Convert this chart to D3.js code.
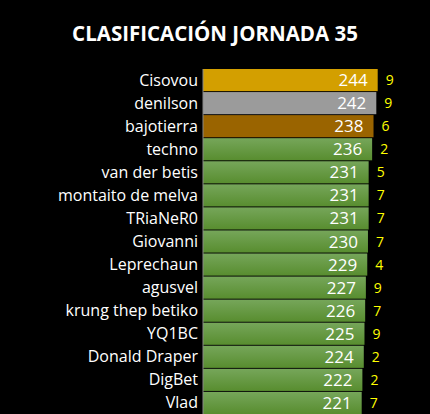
<!DOCTYPE html><html><head><meta charset="utf-8"><script src="https://cdn.jsdelivr.net/npm/d3@7"></script>
<style>body{margin:0;background:#000}</style></head><body><svg id="c" width="430" height="414"></svg>
<script>
const names=["Cisovou","denilson","bajotierra","techno","van der betis","montaito de melva","TRiaNeR0","Giovanni","Leprechaun","agusvel","krung thep betiko","YQ1BC","Donald Draper","DigBet","Vlad"];
const points=[244,242,238,236,231,231,231,230,229,227,226,225,224,222,221];
const extra=[9,9,6,2,5,7,7,7,4,9,7,9,2,2,7];
const svg=d3.select("#c");
svg.append("rect").attr("width",430).attr("height",414).attr("fill","#000");
const defs=svg.append("defs");
const g=defs.append("linearGradient").attr("id","gr").attr("x1",0).attr("y1",0).attr("x2",0).attr("y2",1);
g.append("stop").attr("offset","0").attr("stop-color","#76a65a");
g.append("stop").attr("offset","1").attr("stop-color","#588d2f");
const x=d3.scaleLinear().domain([-7,244]).range([203,377.7]);
const y=d3.scaleBand().domain(names).range([69,414]).paddingInner(0.04);
const fills=["#d39f00","#9b9b9b","#9a6400"];
svg.append("text").attr("x",215).attr("y",41).attr("text-anchor","middle").attr("fill","#fff")
 .attr("font-family","Open Sans, sans-serif").attr("font-weight","bold").attr("font-size",20.5).text("CLASIFICACIÓN JORNADA 35");
const row=svg.selectAll("g.r").data(names).enter().append("g");
row.append("rect").attr("x",x(-7)).attr("y",d=>y(d)).attr("height",y.bandwidth())
 .attr("width",(d,i)=>x(points[i])-x(-7)).attr("fill",(d,i)=>i<3?fills[i]:"url(#gr)");
row.append("text").attr("x",198).attr("y",d=>y(d)+y.bandwidth()/2+5.5).attr("text-anchor","end")
 .attr("fill","#fff").attr("font-family","Open Sans, sans-serif").attr("font-size",16).text(d=>d);
row.append("text").attr("x",(d,i)=>x(points[i])-10).attr("y",d=>y(d)+y.bandwidth()/2+6).attr("text-anchor","end")
 .attr("fill","#fff").attr("font-family","Open Sans, sans-serif").attr("font-size",17).text((d,i)=>points[i]);
row.append("text").attr("x",(d,i)=>x(points[i])+8).attr("y",d=>y(d)+y.bandwidth()/2+5).attr("text-anchor","start")
 .attr("fill","#ffff00").attr("font-family","Open Sans, sans-serif").attr("font-size",14).text((d,i)=>extra[i]);
svg.append("line").attr("x1",203).attr("x2",203).attr("y1",69).attr("y2",414).attr("stroke","#888").attr("stroke-width",1);
</script></body></html>
